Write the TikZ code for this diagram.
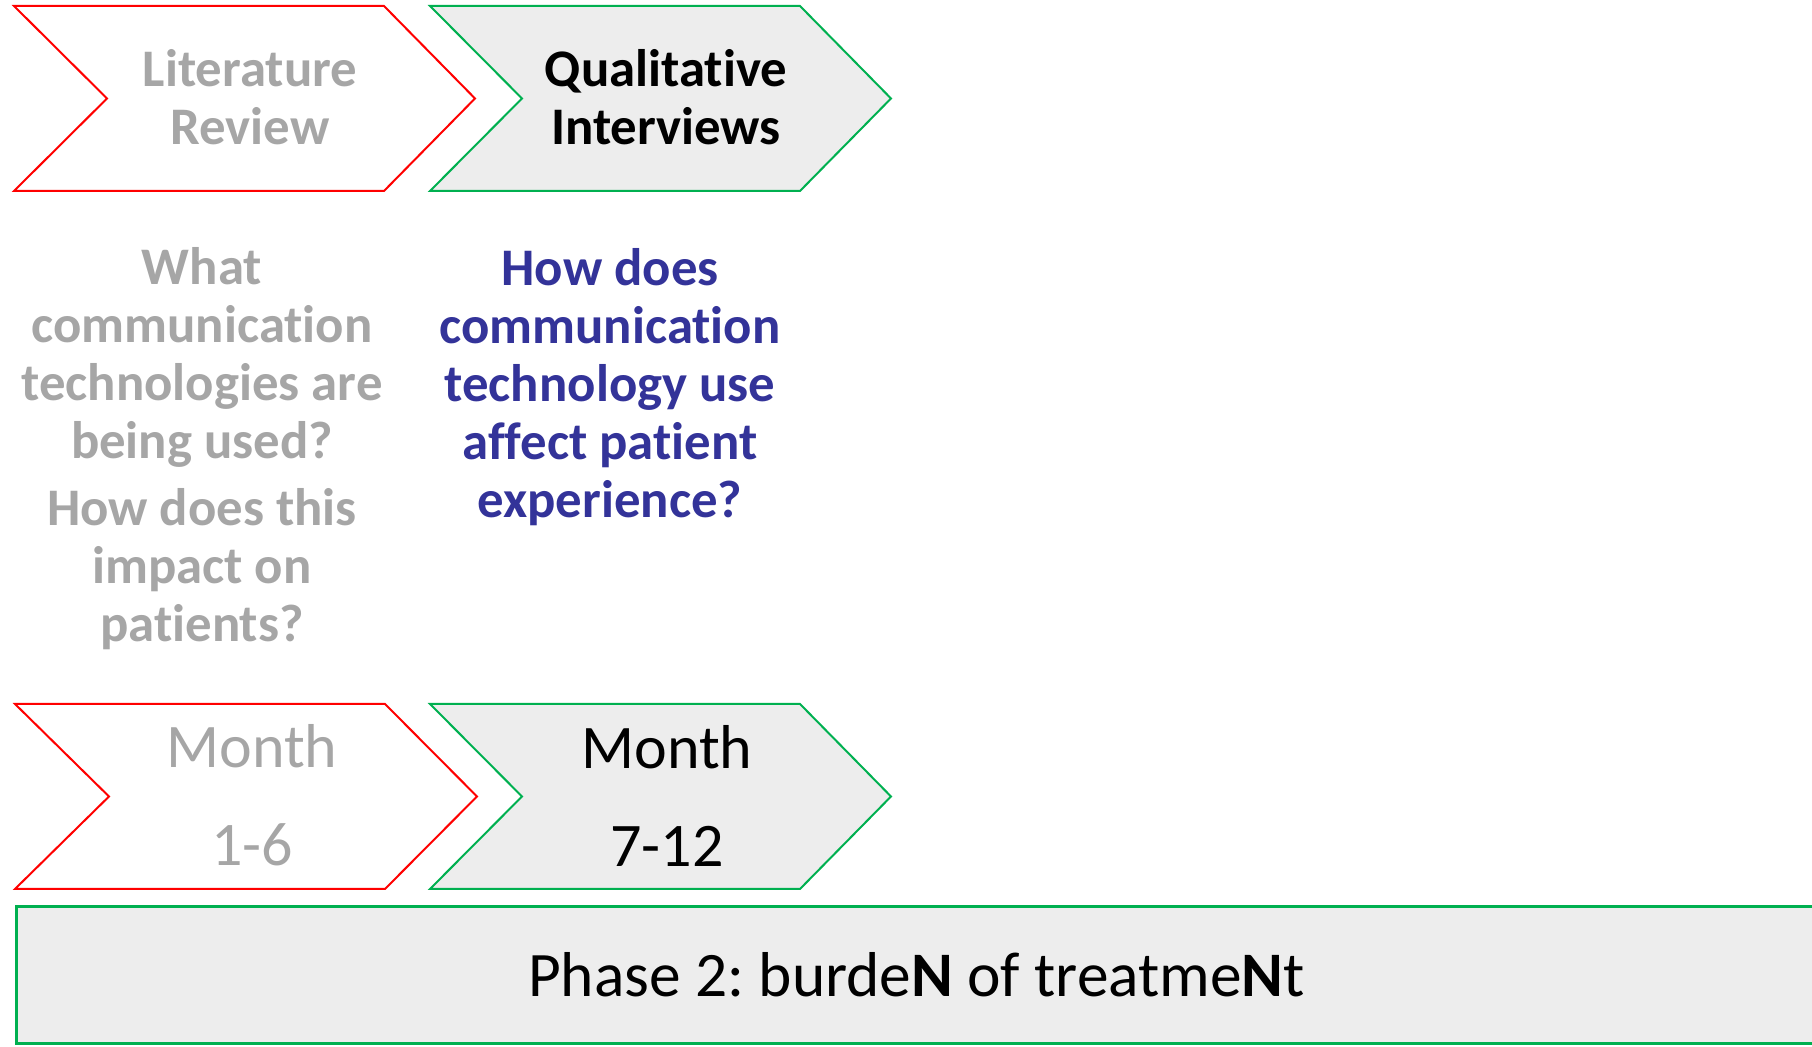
\documentclass[tikz,border=0pt]{standalone}
\usepackage{fontspec}
\setmainfont{Carlito}[Ligatures=NoCommon]
\usepackage{xcolor}
\usetikzlibrary{positioning}
\definecolor{phase_green}{RGB}{0,176,80}
\definecolor{done_grey}{RGB}{166,166,166}
\definecolor{ask_blue}{RGB}{51,51,153}
\definecolor{box_fill}{RGB}{237,237,237}
\frenchspacing
\tikzset{my_picture/.style={x=0.5pt,y=0.5pt,line join=miter}}
\tikzset{red_chevron/.style={draw=red, line width=1pt}}
\tikzset{green_chevron/.style={draw=phase_green, fill=box_fill, line width=1pt}}
\tikzset{my_title/.style={align=center, font=\fontsize{26.4}{29}\selectfont\bfseries}}
\tikzset{my_question/.style={align=center, font=\fontsize{26.4}{29}\selectfont\bfseries}}
\tikzset{my_month/.style={align=center, font=\fontsize{31}{49}\selectfont}}
\tikzset{my_phase/.style={draw=phase_green, fill=box_fill, line width=1.5pt, anchor=south west,
    minimum width=900pt, minimum height=68.5pt, font=\fontsize{31.7}{35}\selectfont}}

\begin{document}
\begin{tikzpicture}[my_picture]
    \useasboundingbox (0,0) rectangle (1812,1047);
    %\draw[help lines] (0,0) grid[step=100] (1812,1047);

    % stage chevrons, top row
    \draw[red_chevron] (14,856) -- ++(93,92.5) -- ++(-93,92.5) -- ++(370,0)
        -- ++(91,-92.5) -- ++(-91,-92.5) -- cycle;
    \draw[green_chevron] (430,856) -- ++(92,92.5) -- ++(-92,92.5) -- ++(370,0)
        -- ++(91,-92.5) -- ++(-91,-92.5) -- cycle;

    % month chevrons, bottom row
    \draw[red_chevron] (15,158) -- ++(94,92.5) -- ++(-94,92.5) -- ++(370,0)
        -- ++(92,-92.5) -- ++(-92,-92.5) -- cycle;
    \draw[green_chevron] (430,158) -- ++(92,92.5) -- ++(-92,92.5) -- ++(370,0)
        -- ++(91,-92.5) -- ++(-91,-92.5) -- cycle;

    \node[my_title, text=done_grey] (lit_title) at (250,950) {Literature\\Review};
    \node[my_title] (qual_title) at (666,950) {Qualitative\\Interviews};

    \node[my_question, text=done_grey] (lit_question) at (202,598)
        {What\\communication\\technologies are\\being used?\\[4.5pt]How does this\\impact on\\patients?};
    \node[my_question, text=ask_blue] (qual_question) at (610,660)
        {How does\\communication\\technology use\\affect patient\\experience?};

    \node[my_month, text=done_grey] (lit_month) at (252,251.5) {Month\\1-6};
    \node[my_month] (qual_month) at (667,251.5) {Month\\7-12};

    \node[my_phase] (phase_bar) at (15,2) {Phase 2: burde\textbf{N} of treatme\textbf{N}t};
\end{tikzpicture}
\end{document}
